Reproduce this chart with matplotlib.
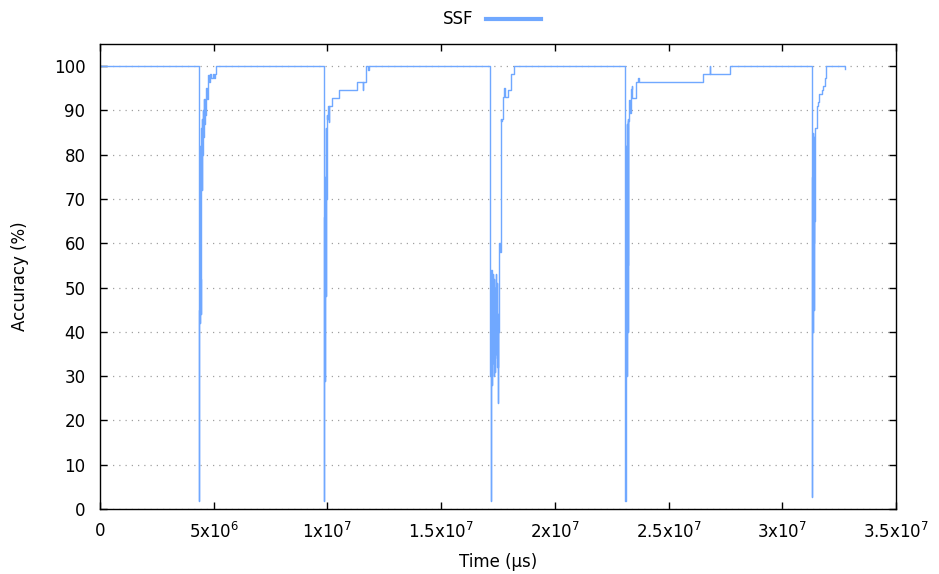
import matplotlib
matplotlib.use("Agg")
import matplotlib.pyplot as plt
from matplotlib.lines import Line2D

# time in microseconds, accuracy in percent
start_time = [0.0]
start_acc = [100.0]

dip1_time = [4.350e6, 4.360e6, 4.370e6, 4.380e6, 4.390e6, 4.400e6, 4.410e6, 4.420e6,
             4.430e6, 4.440e6, 4.450e6, 4.460e6, 4.470e6, 4.480e6, 4.500e6, 4.520e6,
             4.540e6, 4.560e6, 4.580e6, 4.600e6, 4.630e6, 4.660e6, 4.700e6, 4.740e6,
             4.780e6, 4.840e6, 4.900e6, 4.960e6, 5.000e6, 5.040e6, 5.090e6]
dip1_acc = [1.7, 60, 45, 75, 42, 82, 52, 70,
            44, 78, 60, 86, 72, 88, 80, 90,
            84, 92.5, 87, 92.5, 89, 95, 92.5, 98,
            96.5, 98.2, 97.3, 98.2, 97.3, 98.2, 100]

dip2_time = [9.850e6, 9.860e6, 9.870e6, 9.880e6, 9.890e6, 9.900e6, 9.910e6, 9.920e6,
             9.930e6, 9.940e6, 9.950e6, 9.960e6, 9.980e6, 1.003e7, 1.006e7, 1.009e7,
             1.020e7, 1.051e7, 1.130e7, 1.155e7, 1.158e7, 1.170e7, 1.180e7, 1.182e7]
dip2_acc = [1.7, 34, 66, 29, 55, 40, 75, 48,
            62, 86, 70, 89, 88, 91, 87.4, 91,
            92.8, 94.6, 96.4, 94.6, 96.4, 100, 99.2, 100]

dip3_time = [1.713e7, 1.715e7, 1.719e7, 1.720e7, 1.721e7, 1.722e7, 1.723e7, 1.724e7,
             1.725e7, 1.726e7, 1.727e7, 1.728e7, 1.729e7, 1.730e7, 1.731e7, 1.732e7,
             1.733e7, 1.734e7, 1.735e7, 1.736e7, 1.737e7, 1.738e7, 1.740e7, 1.742e7,
             1.744e7, 1.746e7, 1.748e7, 1.750e7, 1.752e7, 1.754e7, 1.756e7, 1.758e7,
             1.762e7, 1.765e7, 1.767e7, 1.770e7, 1.778e7, 1.781e7, 1.795e7, 1.805e7,
             1.820e7]
dip3_acc = [46, 30, 1.7, 40, 54, 35, 52, 28,
            50, 38, 53, 33, 48, 36, 52, 30,
            45, 34, 50, 31, 47, 36, 53, 35,
            51, 32, 44, 24, 40, 54, 60, 58,
            88, 87.6, 88, 93, 95, 93, 94.6, 98.2,
            100]

dip4_time = [2.308e7, 2.310e7, 2.311e7, 2.312e7, 2.313e7, 2.314e7, 2.315e7, 2.316e7,
             2.317e7, 2.318e7, 2.319e7, 2.320e7, 2.321e7, 2.322e7, 2.328e7, 2.331e7,
             2.335e7, 2.338e7, 2.340e7, 2.358e7, 2.366e7, 2.370e7, 2.651e7, 2.680e7,
             2.683e7, 2.770e7]
dip4_acc = [50, 1.7, 30, 68, 35, 82, 45, 75,
            30, 87, 55, 88, 40, 87.6, 92.3, 89.4,
            94.8, 95.5, 92.8, 96.4, 97.3, 96.4, 98.2, 100,
            98.2, 100]

dip5_time = [3.130e7, 3.131e7, 3.132e7, 3.133e7, 3.134e7, 3.135e7, 3.136e7, 3.137e7,
             3.138e7, 3.139e7, 3.140e7, 3.141e7, 3.142e7, 3.144e7, 3.151e7, 3.154e7,
             3.158e7, 3.163e7, 3.173e7, 3.180e7, 3.188e7, 3.192e7, 3.274e7, 3.276e7]
dip5_acc = [2.7, 30, 75, 40, 82, 50, 85, 60,
            78, 45, 84, 65, 86, 86, 88.5, 91,
            92, 93.7, 94.6, 95.5, 97.3, 100, 99.3, 99.3]

time_us = start_time + dip1_time + dip2_time + dip3_time + dip4_time + dip5_time
accuracy = start_acc + dip1_acc + dip2_acc + dip3_acc + dip4_acc + dip5_acc

x_ticks = [0, 5e6, 1e7, 1.5e7, 2e7, 2.5e7, 3e7, 3.5e7]
x_labels = ["0", r"5x10$^{6}$", r"1x10$^{7}$", r"1.5x10$^{7}$", r"2x10$^{7}$",
            r"2.5x10$^{7}$", r"3x10$^{7}$", r"3.5x10$^{7}$"]
y_ticks = list(range(0, 101, 10))

line_color = "#70a8ff"
fs = 12

fig = plt.figure(figsize=(9.39, 5.74), dpi=100)
ax = fig.add_axes([100 / 939, 1 - 509 / 574, 796 / 939, 465 / 574])

ax.plot(time_us, accuracy, color=line_color, lw=1.0, drawstyle="steps-post")

ax.set_xlim(0, 3.5e7)
ax.set_ylim(0, 105)
ax.set_xticks(x_ticks)
ax.set_xticklabels(x_labels)
ax.set_yticks(y_ticks)
ax.tick_params(direction="in", top=True, right=True, length=5, width=1,
               labelsize=fs)
ax.tick_params(axis="y", pad=10.5)
ax.tick_params(axis="x", pad=9)
for s in ax.spines.values():
    s.set_linewidth(1)
ax.yaxis.grid(True, color="#a0a0a0", linestyle=(0, (1, 4)), lw=0.9)
ax.set_axisbelow(True)

ax.set_xlabel("Time (µs)", fontsize=fs, labelpad=8)
ax.set_ylabel("Accuracy (%)", fontsize=fs, labelpad=18)

handle = Line2D([], [], color=line_color, lw=3)
fig.legend([handle], ["SSF"], loc="upper center", bbox_to_anchor=(0.524, 1.008),
           frameon=False, markerfirst=False, handlelength=3.3, fontsize=fs,
           handletextpad=0.8)

fig.savefig("out.png", dpi=100)
